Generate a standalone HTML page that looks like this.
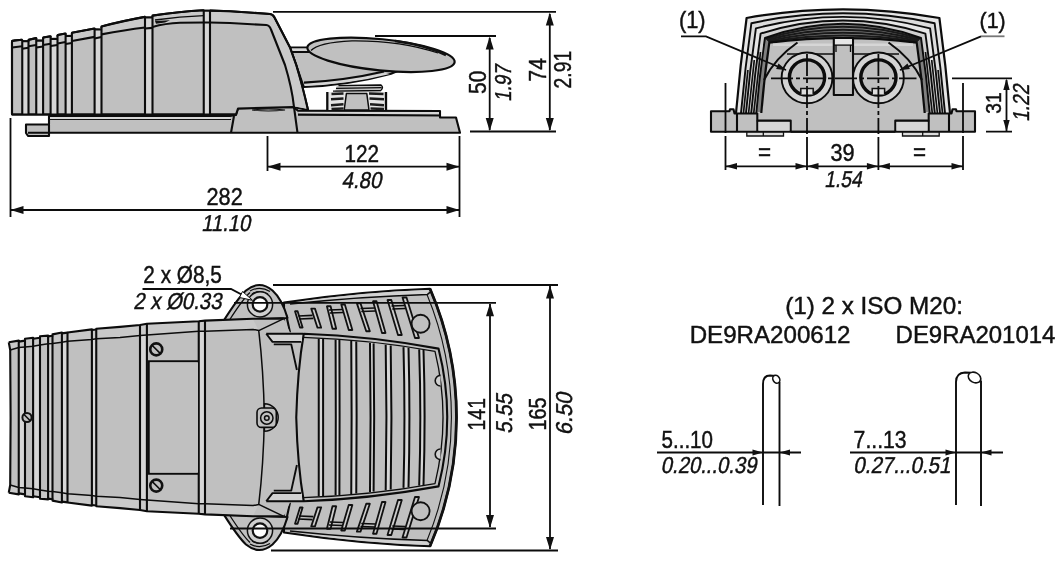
<!DOCTYPE html>
<html lang="en"><head><meta charset="utf-8"><title>Dimensions</title>
<style>
html,body{margin:0;padding:0;background:#fff;overflow:hidden}
svg{display:block;will-change:transform}
.g{fill:#c0c0c0;stroke:#0c0c0c;stroke-width:2.1;stroke-linejoin:round}
.h{fill:#d6d6d6;stroke:none}
.f{fill:#c0c0c0;stroke:none}
.l{fill:none;stroke:#0c0c0c;stroke-width:2.1;stroke-linecap:butt;stroke-linejoin:round}
.t{fill:none;stroke:#111;stroke-width:1.1}
.k{fill:none;stroke:#111;stroke-width:2.4;stroke-linejoin:round}
.d{fill:none;stroke:#0c0c0c;stroke-width:1.8}
.a{fill:#111;stroke:none}
.w{fill:#fff;stroke:#111;stroke-width:1.2}
text{font-family:"Liberation Sans",sans-serif;font-size:23px;fill:#111;stroke:#111;stroke-width:0.45px}
.i{font-style:italic}
</style></head>
<body>
<svg width="1063" height="561" viewBox="0 0 1063 561">
<rect x="0" y="0" width="1063" height="561" fill="#fff"/>
<g id="side-view">
<!-- base plate -->
<path class="g" d="M26,124.5 L49,124.5 L49,116 L230,116 L236,115 L238,108.5 L293,107 L298,110.600 L440,111 L440,117.500 L456,117.500 L460,132.800 L49,132.800 L49,136 L28,136 L26,133 Z"/>
<path class="h" d="M50,117 H230 V119 H50 Z M299,112 H439 V114 H299 Z"/>
<path class="t" d="M49,119.500 L231,119.500 M252,110 Q268,108 285,110 Q268,112 252,110"/>
<path class="l" d="M49,124.500 L49,132.800 M28,132.800 L49,132.800 M231,132.800 L234,116 M298,114.600 L440,115.500 L440,117.500 M294,107 L297.500,132.800"/>
<!-- pedal arm -->
<path class="g" d="M290,47.500 L307.500,47.500 Q340,62 400,70 L391,73.700 Q350,85 303.750,87 Z"/>
<path class="h" d="M291.500,48.500 H308 L312,51.500 H293 Z M304.500,83.500 Q350,80 385,73 L390,74 Q350,84 305,86 Z"/>
<path class="l" d="M292,52 H309 M304,82.600 Q345,80.500 384,71.500"/>
<!-- spring -->
<path d="M327.300,92 H386 V110 H327.300 Z" fill="#e4e4e4" stroke="none"/>
<path class="k" d="M331.500,94 L343.500,93.500 M331,99.300 L343.500,98.500 M331,105.200 L343.500,104.300 M331.500,109 L343.500,108.500 M369,93.500 L383.500,94 M369.500,98.500 L384,99.300 M370,104.300 L384,105.200 M370.500,108.500 L384,109" style="stroke:#1c1c1c;stroke-width:2.600"/>
<path class="l" d="M327.300,92 V110 M386,92 V110" style="stroke-width:2.300"/>
<path class="g" d="M346.400,93.600 L366.800,93.600 L369,110 L344.200,110 Z" style="stroke-width:1.500"/>
<path d="M337,85 L381,84.500 Q384.500,87.500 381,91.500 L335,92 Z" fill="#c4c4c4" stroke="none"/>
<path class="l" d="M338.500,85.700 L381,85 Q384,87.500 381,90.200 M336,88.300 L381.500,87.600 M333,91.200 L381,90.500" style="stroke-width:1.300"/>
<!-- pedal -->
<ellipse class="g" cx="381" cy="54.800" rx="74" ry="15.600" transform="rotate(5.700 381 54.800)" style="stroke-width:2.200"/>
<path class="l" d="M311,50.500 Q318,42.500 352,40.800 Q400,40.300 438,53" style="stroke-width:1.300"/>
<path class="k" d="M395,41 Q425,45 446,55" style="stroke-width:2.600"/>
<!-- body -->
<path class="g" d="M12,114.500 L12,42 Q12,40.600 13.500,40.600 L22,39.750 L22.300,41.250 H28.500 L28.700,39.750 L36.250,38.100 L36.400,40.600 H43 L43.200,37.500 L50.600,36.250 L50.800,39 H57.500 L57.700,35 L65.600,33.500 L65.800,36 H71.900 L72,32.750 L94.600,28.500 L94.800,29.500 H101.300 L101.500,26.500 Q125,20.500 145,16.900 V17.500 H152.500 V15.600 Q180,11.500 203.750,10.250 V10.800 H210 V10.600 L230,11.250 L270,14 Q273,14.300 274.500,17.500 L290,47.500 L296.250,65 Q302,83.750 308,110 L293,107 L238,108.500 L236,114.500 Z"/>
<!-- lighter top band -->
<path class="h" style="fill:#cacaca" d="M13,42 L22,40.800 L22.300,42 H28.500 L36,39.200 L43,39 L50.600,37.500 L57.500,36.500 L65.600,34.700 L72,34 L94.600,29.700 L101.500,27.700 Q125,21.700 145,18.100 L152.500,16.800 Q180,12.700 203.750,11.450 L230,12.400 L269,15 Q272,15.500 273.500,18.500 L289,48 L295.200,65.500 Q301,84 306.800,108.800 L294.500,106.500 Q292,88 285,65 L271,29.500 Q269.500,25.500 266.250,25 L230,23 L210,22.500 L203.750,22.500 Q175,22.500 152.500,26.900 L145,27.500 Q125,31 101.500,34.400 L94.600,36.900 L71.900,41 L65.600,43 L57.500,44 L50.600,44.500 L43,46 L36.250,46.500 L28.500,46.250 L22.250,47.800 L13,47.500 Z"/>
<!-- lighter stripes between rib pairs -->
<path class="h" d="M22.250,42 H28.500 V114 H22.250 Z M36.250,41 H43.100 V114 H36.250 Z M50.600,39.500 H57.500 V114 H50.600 Z M65.600,36.500 H71.900 V114 H65.600 Z M94.600,30 H101.500 V114 H94.600 Z M145,18 H152.500 V114 H145 Z M203.750,11 H210 V114 H203.750 Z"/>
<!-- bevel line -->
<path class="l" d="M12,47.500 L22.250,46.250 M22.250,48.750 L28.500,47.700 M28.500,46.250 L36.250,45 M36.250,47.500 L43.100,46.500 M43.100,45 L50.600,43.800 M50.600,46 L57.500,45 M57.500,43.500 L65.600,42 M65.600,44 L71.900,43 M71.900,41 L94.600,36.900 M94.600,38.500 L101.500,37 M101.500,34.400 Q125,30 145,27.500 M145,28.500 L152.500,27.900 M152.500,26.900 Q165,23.500 180,22.800 L203.750,22.500 H210 L230,23 L266.250,25 Q269.500,25.300 271,29.500 L285,65 Q292,88 294,107"/>
<path class="l" d="M155,20 Q180,16.500 203.750,15.600" style="stroke-width:1.300"/>
<path class="a" d="M155,21 L170,20.300 L165,22.500 L156,23.750 Z"/>
<!-- ribs -->
<path class="l" d="M22.250,40 V114.500 M28.500,39.800 V114.500 M36.250,38.200 V114.500 M43.100,37.600 V114.500 M50.600,36.300 V114.500 M57.500,35.100 V114.500 M65.600,33.600 V114.500 M71.900,32.800 V114.500 M94.600,28.500 V114.500 M101.500,26.500 V114.500 M145,17 V114.500 M152.500,15.700 V114.500 M203.750,10.300 V114.500 M210,10.600 V114.500"/>
<path class="l" d="M22.250,41.250 H28.500 M36.250,40.600 H43.100 M50.600,39 H57.500 M65.600,36 H71.900 M94.600,29.500 H101.500 M145,17.500 H152.500 M203.750,10.800 H210 M12,114.500 L12,42 Q12,40.600 13.500,40.600 L22,39.750 M28.700,39.750 L36.250,38.100 M43.200,37.500 L50.600,36.250 M57.700,35 L65.600,33.500 M72,32.750 L94.600,28.500 M101.500,26.500 Q125,20.500 145,16.900 M152.500,15.600 Q180,11.500 203.750,10.250 M210,10.600 L230,11.250 L270,14 Q273,14.300 274.500,17.500 L290,47.500 L296.250,65 Q302,83.750 308,110 M12,114.500 H236"/>
</g>
<g id="side-dims">
<path class="d" d="M273,11.900 H556 M375,36 H496 M470,131.500 H556 M489.700,38 V130 M549.800,14 V130 M10.500,118 V217 M459.500,136 V217 M267.500,136 V171 M268,166.700 H459 M11,210 H459"/>
<path class="a" d="M489.700,36.500 l-4,13 h8 Z M489.700,131 l-4,-13 h8 Z M549.800,12.500 l-4,13 h8 Z M549.800,131 l-4,-13 h8 Z"/>
<path class="a" d="M267.500,166.700 l13,-4 v8 Z M459.500,166.700 l-13,-4 v8 Z M10.500,210 l13,-4 v8 Z M459.500,210 l-13,-4 v8 Z"/>
</g>
<g id="front-view">
<path d="M736,113 Q740.1,65.5 746.6,18 Q843,0.6 939.4,18 Q945.9,65.5 950,113 L736,113 Z" fill="#e6e6e6" stroke="none"/>
<path d="M741,113 Q745,68.1 751.4,23.2 Q843,3.4 934.6,23.2 Q941,68.1 945,113 L741,113 Z" fill="#dcdcdc" stroke="none"/>
<path d="M746,113 Q749.75,70.7 755.9,28.4 Q843,5.4 930.1,28.4 Q936.25,70.7 940,113 L746,113 Z" fill="#e6e6e6" stroke="none"/>
<path d="M751.2,113 Q754.7,73.3 760.6,33.6 Q843,7.4 925.4,33.6 Q931.3,73.3 934.8,113 L751.2,113 Z" fill="#d0d0d0" stroke="none"/>
<path d="M756.3,113 Q759.45,75.5 765,38 Q843,9.6 921,38 Q926.55,75.5 929.7,113 L756.3,113 Z" fill="#808080" stroke="none"/>
<path d="M756,112 H930 V131.7 H756 Z" fill="#c0c0c0" stroke="none"/>
<path d="M761.3,113 Q764.1,77.8 769.3,42.6 Q843,33.8 916.7,42.6 Q921.9,77.8 924.7,113 L929,131.7 L757,131.7 Z" fill="#c0c0c0" stroke="none"/>
<path d="M766,39 Q843,14.6 920,39" fill="none" stroke="#1a1a1a" stroke-width="2"/>
<path d="M767,40 Q843,19.6 919,40" fill="none" stroke="#1a1a1a" stroke-width="2"/>
<path d="M768,41 Q843,24.6 918,41" fill="none" stroke="#1a1a1a" stroke-width="2"/>
<path d="M769,42 Q843,29.2 917,42" fill="none" stroke="#1a1a1a" stroke-width="2"/>
<path class="l" d="M736,113 Q740.1,65.5 746.6,18 Q843,0.6 939.4,18 Q945.9,65.5 950,113" style="stroke-width:2.2"/>
<path class="l" d="M741,113 Q745,68.1 751.4,23.2 Q843,3.4 934.6,23.2 Q941,68.1 945,113" style="stroke-width:1.9"/>
<path class="l" d="M746,113 Q749.75,70.7 755.9,28.4 Q843,5.4 930.1,28.4 Q936.25,70.7 940,113" style="stroke-width:1.9"/>
<path class="l" d="M751.2,113 Q754.7,73.3 760.6,33.6 Q843,7.4 925.4,33.6 Q931.3,73.3 934.8,113" style="stroke-width:1.9"/>
<path class="l" d="M756.3,113 Q759.45,75.5 765,38 Q843,9.6 921,38 Q926.55,75.5 929.7,113" style="stroke-width:1.9"/>
<path class="l" d="M761.3,113 Q764.1,77.8 769.3,42.6 Q843,33.8 916.7,42.6 Q921.9,77.8 924.7,113" style="stroke-width:2.2"/>
<path class="t" d="M747.91,70 L743.5,113 M754.29,60 L748.6,113 M760.5,52 L753.75,113" style="stroke-width:1.7"/>
<path class="t" d="" style="stroke-width:1"/>
<path class="t" d="M938.09,70 L942.5,113 M931.71,60 L937.4,113 M925.5,52 L932.25,113" style="stroke-width:1.7"/>
<path class="t" d="" style="stroke-width:1"/>
<path class="h" d="M773,43.5 H833 V46 H773 Z M853,43.5 H913 V46 H853 Z" style="fill:#d6d6d6"/>
<path class="l" d="M787,54 H834 M852,54 H899" style="stroke-width:1.4"/>
<path class="l" d="M797.5,42.5 Q775,58 764,80 M888.5,42.5 Q911,58 922,80"/>
<path class="g" d="M833.8,38 H853 V95 H833.8 Z" style="fill:#c0c0c0"/>
<path class="h" d="M835,39 H852 V44.5 H835 Z" style="fill:#e6e6e6"/>
<path class="l" d="M833.8,45.2 H853 M836,45.2 V52 M850.5,45.2 V52" style="stroke-width:1.3"/>
<circle cx="807" cy="77.900" r="25.400" fill="#d4d4d4" stroke="#0c0c0c" stroke-width="1.9"/>
<circle cx="807" cy="77.5" r="17.6" fill="#c0c0c0" stroke="#0c0c0c" stroke-width="3.4"/>
<path d="M800.8,94.5 V88.5 H813.2 V94.5" fill="#dedede" stroke="#111" stroke-width="1.5"/>
<circle cx="878.4" cy="77.900" r="25.400" fill="#d4d4d4" stroke="#0c0c0c" stroke-width="1.9"/>
<circle cx="878.4" cy="77.5" r="17.6" fill="#c0c0c0" stroke="#0c0c0c" stroke-width="3.4"/>
<path d="M872.2,94.5 V88.5 H884.6 V94.5" fill="#dedede" stroke="#111" stroke-width="1.5"/>
<path class="g" d="M711,111.3 H729.5 L730,109.3 H733.5 L734.5,113.5 H757.3 V120.6 H790.7 V131.7 H895.3 V120.6 H928.7 V113.5 H951.5 L952.5,109.3 H956 L956.5,111.3 H975 V131.7 H711 Z"/>
<path class="l" d="M737,113.5 V131.7 M757.3,120.6 V131.7 M790.7,131.7 H895.3 M949,113.5 V131.7 M928.7,120.6 V131.7"/>
<path class="h" d="M758.5,122 H789.5 V130.5 H758.5 Z M896.5,122 H927.5 V130.5 H896.5 Z"/>
<path d="M746.8,132.2 H783.5 V136 H746.8 Z M763.3,132.2 V136 M902.5,132.2 H939.2 V136 H902.5 Z M922.7,132.2 V136" fill="#dcdcdc" stroke="#111" stroke-width="1.3"/>
</g>
<g id="front-dims">
<path class="d" d="M771,78.3 H916.5" stroke-dasharray="22 3 4 3"/>
<path class="d" d="M807,54 V134 M878.4,54 V134" stroke-dasharray="22 3 4 3"/>
<path class="d" d="M807,137 V170 M878.4,137 V170 M725.5,83 V133 M725.5,136 V170 M963,83 V133 M963,136 V170 M726,166.3 H963 M952,78.3 H1012 M986,131.7 H1012 M1006.5,80 V131"/>
<path class="d" d="M681,36.300 H706 L786,70 M981,36.300 L900,70"/>
<path class="d" d="M1004.500,36.300 H981" style="stroke:#777"/>
<path class="a" d="M725.5,166.3 L737,163.1 L737,169.5 Z M807,166.3 L795.5,169.5 L795.5,163.1 Z M807,166.3 L818.5,163.1 L818.5,169.5 Z M878.4,166.3 L866.9,169.5 L866.9,163.1 Z M878.4,166.3 L889.9,163.1 L889.9,169.5 Z M963,166.3 L951.5,169.5 L951.5,163.1 Z M1006.5,78.5 L1009.7,90 L1003.3,90 Z M1006.5,131.5 L1003.3,120 L1009.7,120 Z M786.5,70.2 L776.12,69.05 L778.47,63.53 Z M899.5,70.2 L907.53,63.53 L909.88,69.05 Z"/>
</g>
<g id="top-view">
<path class="g" d="M284,302.5 Q360,291 430,288.75 A326,326 0 0 1 430,546.25 Q360,544 284,532.5 Z"/>
<path class="h" d="M300,301.5 Q365,292.2 429,290 L427,294 Q365,296.5 315,302 Z M300,533.5 Q365,542.8 429,545 L427,541 Q365,538.5 315,533 Z" style="fill:#d2d2d2"/>
<path class="l" d="M290,304 Q360,296.5 427.5,294.4 L431,291.5 M290,531 Q360,538.5 427.5,540.6 L431,543.5" style="stroke-width:1.5"/>
<path d="M430,288.75 A326,326 0 0 1 430,546.25" fill="none" stroke="#111" stroke-width="2.8"/>
<path d="M427,294.5 A322,322 0 0 1 427,540.5" fill="none" stroke="#111" stroke-width="1.1"/>
<path d="M295,311.25 L297.6,311.25 L302.6,327.5 L300,327.5 Z M311.25,308.6 L314.95,308.6 L321.2,327.7 L317.5,327.7 Z M326.9,306.25 L330.6,306.25 L336.2,328.75 L332.5,328.75 Z M341.25,304.5 L344.85,304.5 L352.35,330 L348.75,330 Z M356.9,303.4 L360.5,303.4 L369.85,331.25 L366.25,331.25 Z M373,301.25 L376.5,301.25 L385.5,333 L382,333 Z M387.5,300 L391.3,300 L401.8,335 L398,335 Z M402.5,297.5 L406.5,297.5 L419,338 L415,338 Z" fill="#cdcdcd" stroke="#111" stroke-width="1.8" stroke-linejoin="round"/>
<path class="l" d="M298.5,316 L312.5,315.4 M299.3,319 L313.3,318.4 M329,310 L342.5,309.5 M329.8,313 L343.3,312.5 M360.5,308.5 L374.5,308 M361.3,311.5 L375.3,311 M391.5,306 L404.5,305.5 M392.3,309 L405.3,308.5" style="stroke-width:1.6"/>
<circle cx="420.6" cy="323.75" r="9" fill="#c0c0c0" stroke="#111" stroke-width="1.8"/>
<path d="M295,523.75 L297.6,523.75 L302.6,507.5 L300,507.5 Z M311.25,526.4 L314.95,526.4 L321.2,507.3 L317.5,507.3 Z M326.9,528.75 L330.6,528.75 L336.2,506.25 L332.5,506.25 Z M341.25,530.5 L344.85,530.5 L352.35,505 L348.75,505 Z M356.9,531.6 L360.5,531.6 L369.85,503.75 L366.25,503.75 Z M373,533.75 L376.5,533.75 L385.5,502 L382,502 Z M387.5,535 L391.3,535 L401.8,500 L398,500 Z M402.5,537.5 L406.5,537.5 L419,497 L415,497 Z" fill="#cdcdcd" stroke="#111" stroke-width="1.8" stroke-linejoin="round"/>
<path class="l" d="M298.5,519 L312.5,519.6 M299.3,516 L313.3,516.6 M329,525 L342.5,525.5 M329.8,522 L343.3,522.5 M360.5,526.5 L374.5,527 M361.3,523.5 L375.3,524 M391.5,529 L404.5,529.5 M392.3,526 L405.3,526.5" style="stroke-width:1.6"/>
<circle cx="420.6" cy="511.25" r="9" fill="#c0c0c0" stroke="#111" stroke-width="1.8"/>
<path class="l" d="M286.25,315 L290,332.5 M286.25,520 L290,502.5"/>
<path class="g" d="M223.75,320.6 Q238,298 246,290.5 Q259.4,279.5 272.5,290.5 Q282,299 287.5,318 Z"/>
<path class="l" d="M229.500,320 Q243,299 250,292.5" style="stroke-width:1.300"/>
<path class="l" d="M250,291 Q260,285.5 270,291.5 M252,294 Q260,289 268,294" style="stroke-width:1.200"/>
<circle cx="260" cy="304.4" r="12.600" fill="#cfcfcf" stroke="#111" stroke-width="1.500"/>
<circle cx="260" cy="304.4" r="7.300" fill="#fff" stroke="#111" stroke-width="2.200"/>
<path class="g" d="M223.75,514.4 Q238,537 246,544.5 Q259.4,555.5 272.5,544.5 Q282,536 287.5,517 Z"/>
<path class="l" d="M229.500,515 Q243,536 250,542.5" style="stroke-width:1.300"/>
<path class="l" d="M250,544 Q260,549.5 270,543.5 M252,541 Q260,546 268,541" style="stroke-width:1.200"/>
<circle cx="260" cy="530.6" r="12.600" fill="#cfcfcf" stroke="#111" stroke-width="1.500"/>
<circle cx="260" cy="530.6" r="7.300" fill="#fff" stroke="#111" stroke-width="2.200"/>
<path class="f" d="M10.6,417.5 L10.2,350 L8.75,342.25 L18.75,340.6 L18.75,341.6 L25,340.6 L25,338.75 L33.1,337.75 L33.1,338.8 L40,337.8 L40,336.25 L48.1,335.6 L48.1,336.4 L52.5,335.8 L52.5,334.4 L61.9,332.5 L61.9,333.4 L67.5,332.6 L67.5,332.5 L91.9,329.4 L91.9,330 L96.25,329.5 L96.25,328.75 L120,326.9 L140,325 L146.9,323.75 L198.75,321.25 L205,320.6 L253,318.75 L283.75,318.6 L290,332.5 L303,336 L303,499 L290,502.5 L283.75,516.4 L253,516.25 L205,514.4 L198.75,513.75 L146.9,511.25 L140,510 L120,508.1 L96.25,506.25 L96.25,505.5 L91.9,505 L91.9,505.6 L67.5,502.5 L67.5,502.4 L61.9,501.6 L61.9,502.5 L52.5,500.6 L52.5,499.2 L48.1,498.6 L48.1,499.4 L40,498.75 L40,497.2 L33.1,496.2 L33.1,497.25 L25,496.25 L25,494.4 L18.75,493.4 L18.75,494.4 L8.75,492.75 L10.2,485 Z"/>
<path class="g" d="M303.75,333.75 Q370,336 438.5,348.6 A280,280 0 0 1 438.5,486.4 Q370,499 303.75,501.25 Q297.5,465 296.25,417.5 Q297.5,370 303.75,333.75 Z"/>
<path class="h" d="M318.75,338.63 L323.1,338.9 L323.1,496.1 L318.75,496.37 Z M335.6,339.8 L339.4,340.1 L339.4,494.9 L335.6,495.2 Z M351.25,341.11 L356.25,341.58 L356.25,493.42 L351.25,493.89 Z M370,342.98 L373.6,343.37 L373.6,491.63 L370,492.02 Z M385.7,344.78 L390.7,345.41 L390.7,489.59 L385.7,490.22 Z M403.5,347.1 L408.5,347.8 L408.5,487.2 L403.5,487.9 Z M419.2,349.38 L423.5,350.04 L423.5,484.96 L419.2,485.62 Z" style="fill:#d6d6d6"/>
<path class="l" d="M318.75,338.63 Q318.77,417.5 318.75,496.37 M323.1,338.9 Q323.12,417.5 323.1,496.1 M335.6,339.8 Q335.99,417.5 335.6,495.2 M339.4,340.1 Q339.79,417.5 339.4,494.9 M351.25,341.11 Q351.98,417.5 351.25,493.89 M356.25,341.58 Q356.98,417.5 356.25,493.42 M370,342.98 Q371.14,417.5 370,492.02 M373.6,343.37 Q374.74,417.5 373.6,491.63 M385.7,344.78 Q387.19,417.5 385.7,490.22 M390.7,345.41 Q392.19,417.5 390.7,489.59 M403.5,347.1 Q405.38,417.5 403.5,487.9 M408.5,347.8 Q410.38,417.5 408.5,487.2 M419.2,349.38 Q421.43,417.5 419.2,485.62 M423.5,350.04 Q425.73,417.5 423.5,484.96" style="stroke-width:2"/>
<path class="l" d="M303,337.4 Q370,339.500 435,351.400 A280,280 0 0 1 435,483.6 Q370,495.5 303,497.6" style="stroke-width:1.300"/>
<path d="M440.500,375.4 A5.300,5.300 0 0 0 440.500,386" fill="#d0d0d0" stroke="#111" stroke-width="1.600"/>
<path d="M440.500,449 A5.300,5.300 0 0 0 440.500,459.6" fill="#d0d0d0" stroke="#111" stroke-width="1.600"/>
<path class="h" d="M18.75,342.1 L25,341.1 L25,493.9 L18.75,492.9 Z M33.1,339.3 L40,338.3 L40,496.7 L33.1,495.7 Z M48.1,336.9 L52.5,336.3 L52.5,498.7 L48.1,498.1 Z M61.9,333.9 L67.5,333.1 L67.5,501.9 L61.9,501.1 Z M91.9,330.5 L96.25,330 L96.25,505 L91.9,504.5 Z M140,325.5 L146.9,324.25 L146.9,510.75 L140,509.5 Z M198.75,321.75 L205,321.1 L205,513.9 L198.75,513.25 Z"/>
<path class="h" d="M8.75,342.85 L18.75,341.2 L18.75,342.2 L25,341.2 L25,339.35 L33.1,338.35 L33.1,339.4 L40,338.4 L40,336.85 L48.1,336.2 L48.1,337 L52.5,336.4 L52.5,335 L61.9,333.1 L61.9,334 L67.5,333.2 L67.5,333.1 L91.9,330 L91.9,330.6 L96.25,330.1 L96.25,329.35 L120,327.5 L140,325.6 L146.9,324.35 L198.75,321.85 L205,321.2 L253,319.35 L258.75,330.6 L253,329.4 L205,331.25 L198.75,331.25 L146.9,335 L140,335.6 L120,337.5 L96.25,338.75 L91.9,339.4 L67.5,341.25 L61.9,342.25 L52.5,343.5 L48.1,343.75 L40,345 L33.1,346.25 L25,346.9 L18.75,347.5 L10.2,350 Z M8.75,492.15 L18.75,493.8 L18.75,492.8 L25,493.8 L25,495.65 L33.1,496.65 L33.1,495.6 L40,496.6 L40,498.15 L48.1,498.8 L48.1,498 L52.5,498.6 L52.5,500 L61.9,501.9 L61.9,501 L67.5,501.8 L67.5,501.9 L91.9,505 L91.9,504.4 L96.25,504.9 L96.25,505.65 L120,507.5 L140,509.4 L146.9,510.65 L198.75,513.15 L205,513.8 L253,515.65 L258.75,504.4 L253,505.6 L205,503.75 L198.75,503.75 L146.9,500 L140,499.4 L120,497.5 L96.25,496.25 L91.9,495.6 L67.5,493.75 L61.9,492.75 L52.5,491.5 L48.1,491.25 L40,490 L33.1,488.75 L25,488.1 L18.75,487.5 L10.2,485 Z" style="fill:#c9c9c9"/>
<path class="l" d="M8.75,342.25 L18.75,340.6 L18.75,341.6 L25,340.6 L25,338.75 L33.1,337.75 L33.1,338.8 L40,337.8 L40,336.25 L48.1,335.6 L48.1,336.4 L52.5,335.8 L52.5,334.4 L61.9,332.5 L61.9,333.4 L67.5,332.6 L67.5,332.5 L91.9,329.4 L91.9,330 L96.25,329.5 L96.25,328.75 L120,326.9 L140,325 L146.9,323.75 L198.75,321.25 L205,320.6 L253,318.75 L283.75,318.6 M8.75,492.75 L18.75,494.4 L18.75,493.4 L25,494.4 L25,496.25 L33.1,497.25 L33.1,496.2 L40,497.2 L40,498.75 L48.1,499.4 L48.1,498.6 L52.5,499.2 L52.5,500.6 L61.9,502.5 L61.9,501.6 L67.5,502.4 L67.5,502.5 L91.9,505.6 L91.9,505 L96.25,505.5 L96.25,506.25 L120,508.1 L140,510 L146.9,511.25 L198.75,513.75 L205,514.4 L253,516.25 L283.75,516.4 M8.75,342.25 L10.2,350 L10.6,417.5 L10.2,485 L8.75,492.75"/>
<path class="l" d="M10.2,350 L18.75,347.5 L25,346.9 L33.1,346.25 L40,345 L48.1,343.75 L52.5,343.5 L61.9,342.25 L67.5,341.25 L91.9,339.4 L96.25,338.75 L120,337.5 L140,335.6 L146.9,335 L198.75,331.25 L205,331.25 L253,329.4 L258.75,330.6 M10.2,485 L18.75,487.5 L25,488.1 L33.1,488.75 L40,490 L48.1,491.25 L52.5,491.5 L61.9,492.75 L67.5,493.75 L91.9,495.6 L96.25,496.25 L120,497.5 L140,499.4 L146.9,500 L198.75,503.75 L205,503.75 L253,505.6 L258.75,504.4" style="stroke-width:1.500"/>
<path class="l" d="M18.75,340.3 V494.7 M25,340.3 V494.7 M33.1,337.45 V497.55 M40,337.5 V497.5 M48.1,335.3 V499.7 M52.5,335.5 V499.5 M61.9,332.2 V502.8 M67.5,332.3 V502.7 M91.9,329.1 V505.9 M96.25,329.2 V505.8 M140,324.7 V510.3 M146.9,323.45 V511.55 M198.75,320.95 V514.05 M205,320.3 V514.7"/>
<path class="l" d="M283.75,318.6 L258.75,330.6 Q263.5,370 264.4,417.5 M283.75,516.4 L258.75,504.4 Q263.5,465 264.4,417.5" style="stroke-width:1.500"/>
<path class="h" d="M267.500,334.5 H302 V341.5 H273 Z" style="fill:#d2d2d2"/>
<path class="l" d="M266.250,333.75 H303 M266.250,333.75 L272.500,341.9 H301.250 M273.750,344.4 H291.250 L296.900,370" style="stroke-width:1.900"/>
<path class="h" d="M267.500,500.5 H302 V493.5 H273 Z" style="fill:#d2d2d2"/>
<path class="l" d="M266.250,501.25 H303 M266.250,501.25 L272.500,493.1 H301.250 M273.750,490.6 H291.250 L296.900,465" style="stroke-width:1.900"/>
<path class="l" d="M147.500,361.250 H198.750 M147.500,473.75 H198.750 M148.750,361.250 V473.75" style="stroke-width:2"/>
<path class="h" d="M150,362.500 H198 V472.5 H150 Z" style="fill:#c0c0c0"/>
<circle cx="156.25" cy="349.4" r="6" fill="#c0c0c0" stroke="#111" stroke-width="2.6"/>
<path class="l" d="M152.05,345.2 L160.45,353.6" style="stroke-width:1.600"/>
<circle cx="156.25" cy="485.6" r="6" fill="#c0c0c0" stroke="#111" stroke-width="2.6"/>
<path class="l" d="M152.05,481.4 L160.45,489.8" style="stroke-width:1.600"/>
<circle cx="27" cy="417.5" r="4.6" fill="#c0c0c0" stroke="#111" stroke-width="2"/>
<path class="l" d="M23.78,414.28 L30.22,420.72" style="stroke-width:1.600"/>
<path class="g" d="M264.400,403.700 A13.800,13.800 0 0 1 264.400,431.300 Z" style="stroke-width:1.500"/>
<rect x="257" y="408" width="19.300" height="19.400" rx="4.500" class="g" style="stroke-width:1.600"/>
<circle cx="266.800" cy="418" r="6.200" class="g" style="stroke-width:1.500"/>
<circle cx="266.800" cy="418" r="2.300" class="g" style="stroke-width:1.500"/>
</g>
<g id="top-dims">
<path class="d" d="M273,285 H558 M271,550.500 H558 M234,302.800 H496 M230,528.500 H496 M490,304 V527 M550,286 V549 M142.500,289 H231 L251,299.500"/>
<path class="a" d="M490,303.300 l-4,13 h8 Z M490,528 l-4,-13 h8 Z M550,285.500 l-4,13 h8 Z M550,550 l-4,-13 h8 Z"/>
<path d="M252.500,300.300 L242.500,291.500 L239.500,297.500 Z" fill="#fff" stroke="#111" stroke-width="1"/>
</g>
<g id="cable-notes">
<path class="l" d="M763,505 V384 Q763,375.500 770,375.500 L775,376 M779.500,382 V506" style="stroke-width:1.900"/>
<ellipse cx="776.300" cy="379.200" rx="3.300" ry="4.200" transform="rotate(-30 776.300 379.200)" fill="#fff" stroke="#111" stroke-width="1.600"/>
<path class="l" d="M956,505 V382 Q956,373 965,372.500 L971,372.800 M981,380.500 V506" style="stroke-width:1.900"/>
<ellipse cx="974.500" cy="377.500" rx="6.600" ry="5" transform="rotate(28 974.500 377.500)" fill="#fff" stroke="#111" stroke-width="1.600"/>
<path class="d" d="M657,452.500 H801 M850,452.500 H1003"/>
<path class="a" d="M763,452.500 l-10.500,-3 v6 Z M779.500,452.500 l10.500,-3 v6 Z M956,452.500 l-10.500,-3 v6 Z M981,452.500 l10.500,-3 v6 Z"/>
</g>
<g id="labels">
<text transform="translate(361.76,162.25) scale(0.902,1)" text-anchor="middle">122</text>
<text transform="translate(361.43,187.99) scale(0.891,1) skewX(-12)" text-anchor="middle">4.80</text>
<text transform="translate(224.66,204.66) scale(0.944,1)" text-anchor="middle">282</text>
<text transform="translate(225.75,230.69) scale(0.876,1) skewX(-12)" text-anchor="middle">11.10</text>
<text transform="translate(485.88,82.33) rotate(-90) scale(0.909,1)" text-anchor="middle">50</text>
<text transform="translate(511.25,83.63) rotate(-90) scale(0.814,1) skewX(-12)" text-anchor="middle">1.97</text>
<text transform="translate(545.58,69.79) rotate(-90) scale(0.909,1)" text-anchor="middle">74</text>
<text transform="translate(571.08,69.63) rotate(-90) scale(0.843,1)" text-anchor="middle">2.91</text>
<text transform="translate(692.26,27.72) scale(0.950,1)" text-anchor="middle">(1)</text>
<text transform="translate(992.62,27.72) scale(0.930,1)" text-anchor="middle">(1)</text>
<text transform="translate(764.47,160.44) scale(0.975,1)" text-anchor="middle">=</text>
<text transform="translate(919.61,160.44) scale(0.974,1)" text-anchor="middle">=</text>
<text transform="translate(842.62,160.73) scale(0.941,1)" text-anchor="middle">39</text>
<text transform="translate(842.98,186.75) scale(0.839,1) skewX(-12)" text-anchor="middle">1.54</text>
<text transform="translate(1001.28,103.12) rotate(-90) scale(0.837,1)" text-anchor="middle">31</text>
<text transform="translate(1028.75,103.30) rotate(-90) scale(0.829,1) skewX(-12)" text-anchor="middle">1.22</text>
<text transform="translate(182.56,282.95) scale(0.903,1)" text-anchor="middle">2 x Ø8,5</text>
<text transform="translate(177.36,308.55) scale(0.885,1) skewX(-12)" text-anchor="middle">2 x Ø0.33</text>
<text transform="translate(484.73,414.25) rotate(-90) scale(0.847,1)" text-anchor="middle">141</text>
<text transform="translate(512.15,413.94) rotate(-90) scale(0.886,1) skewX(-12)" text-anchor="middle">5.55</text>
<text transform="translate(545.94,413.98) rotate(-90) scale(0.861,1)" text-anchor="middle">165</text>
<text transform="translate(571.67,414.09) rotate(-90) scale(0.942,1) skewX(-12)" text-anchor="middle">6.50</text>
<text transform="translate(874.00,314.00) scale(1.010,1)" text-anchor="middle" style="font-size:24px">(1) 2 x ISO M20:</text>
<text transform="translate(770.12,342.70) scale(1.005,1)" text-anchor="middle" style="font-size:24px">DE9RA200612</text>
<text transform="translate(975.50,342.70) scale(0.999,1)" text-anchor="middle" style="font-size:24px">DE9RA201014</text>
<text transform="translate(687.25,447.88) scale(0.894,1)" text-anchor="middle">5...10</text>
<text transform="translate(708.62,473.38) scale(0.881,1) skewX(-12)" text-anchor="middle">0.20...0.39</text>
<text transform="translate(880.12,447.75) scale(0.921,1)" text-anchor="middle">7...13</text>
<text transform="translate(901.88,473.38) scale(0.895,1) skewX(-12)" text-anchor="middle">0.27...0.51</text>
</g>
</svg>
</body></html>
